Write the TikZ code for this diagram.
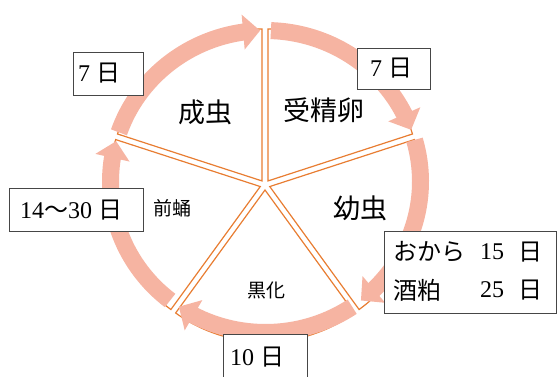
\documentclass[tikz,border=0pt]{standalone}
\usepackage{fontspec}
\setmainfont{Liberation Serif}
\newfontfamily\jp{Noto Sans CJK JP}
\usetikzlibrary{arrows.meta,bending}
\definecolor{bandpink}{RGB}{246,180,162}
\definecolor{edgeorange}{RGB}{232,125,50}
\definecolor{boxgray}{RGB}{70,70,70}
\tikzset{
  sector/.style={draw=edgeorange, line width=1.2pt, fill=white, line join=miter},
  band/.style={draw=bandpink, line width=17pt, -{Triangle[width=34pt,length=17pt]}},
  box/.style={draw=boxgray, line width=0.9pt, fill=white, inner sep=0pt},
  big/.style={font=\fontsize{27}{30}\selectfont\jp, inner sep=0pt},
  small/.style={font=\fontsize{19}{22}\selectfont\jp, inner sep=0pt},
  boxtext/.style={font=\fontsize{24}{28}\selectfont, inner sep=0pt}
}
\begin{document}
\begin{tikzpicture}[x=1pt,y=1pt]
\useasboundingbox (0,0) rectangle (557,376);
\coordinate (sc) at (265,191);
\coordinate (bc) at (265.5,194.5);
% sectors
\foreach \a/\n in {18/s1,90/s2,162/s3,234/s4,306/s5}{
  \draw[sector] ([shift={(\a+36:5)}]sc) coordinate (\n) -- ++(\a:152)
     arc[start angle=\a, end angle=\a+72, radius=152] -- cycle;
}
% arrows
\foreach \s/\e in {161/92, 88/20, 16/-52, -56/-124, -128/-195.5}{
  \draw[band] ([shift={(\s:155 and 151)}]bc) arc[start angle=\s, end angle=\e, x radius=155, y radius=151];
}
% labels
\node[big] (adult) at (205,264) {成虫};
\node[big] (egg) at (324,266) {受精卵};
\node[big] (larva) at (360,168) {幼虫};
\node[small] (prepupa) at (172,168) {前蛹};
\node[small] (black) at (266,86) {黒化};
% boxes
\node[box, minimum width=70pt, minimum height=43pt] (b1) at (108,302.5) {};
\node[boxtext] (t1) at (99,303) {7 {\jp 日}};
\node[box, minimum width=73pt, minimum height=41pt] (b2) at (393.5,307.5) {};
\node[boxtext] (t2) at (391,308) {7 {\jp 日}};
\node[box, minimum width=134pt, minimum height=43pt] (b3) at (76,166.5) {};
\node[boxtext] (t3) at (71,166) {14{\jp 〜}30 {\jp 日}};
\node[box, minimum width=172pt, minimum height=82pt] (b4) at (470,104) {};
\node[boxtext, anchor=west] (t4a) at (393,124) {\jp おから};
\node[boxtext, anchor=west] (t4b) at (480,124) {15};
\node[boxtext, anchor=west] (t4c) at (518,124) {\jp 日};
\node[boxtext, anchor=west] (t5a) at (393,86) {\jp 酒粕};
\node[boxtext, anchor=west] (t5b) at (480,86) {25};
\node[boxtext, anchor=west] (t5c) at (518,86) {\jp 日};
\node[box, minimum width=84pt, minimum height=44pt] (b5) at (265,20) {};
\node[boxtext] (t6) at (257,19) {10 {\jp 日}};
\end{tikzpicture}
\end{document}
